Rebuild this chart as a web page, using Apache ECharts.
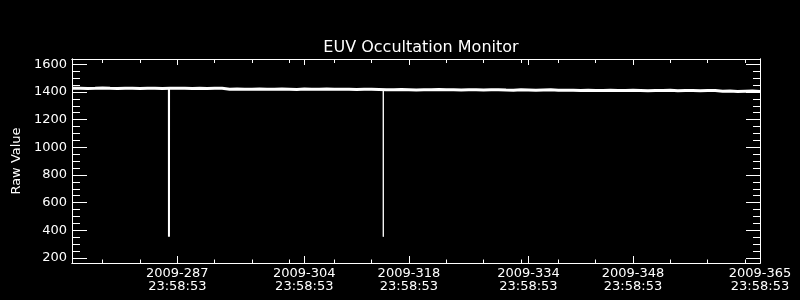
<!DOCTYPE html>
<html>
<head>
<meta charset="utf-8">
<script src="https://cdn.jsdelivr.net/npm/echarts@6/dist/echarts.min.js"></script>
<style>
html,body{margin:0;padding:0;background:#000;}
#c{width:800px;height:300px;}
</style>
</head>
<body>
<div id="c"></div>
<script>
// ---- data (day of year 2009, fractional) ----
const timeOfDay = 0.99923; // 23:58:53
const xMin = 273.9;
const xMax = 365 + timeOfDay;
const majorTickDays = [287, 304, 318, 334, 348, 365];
const majorTickLabels = ['2009-287\n23:58:53', '2009-304\n23:58:53', '2009-318\n23:58:53',
                         '2009-334\n23:58:53', '2009-348\n23:58:53', '2009-365\n23:58:53'];
const minorTickDays = [277, 282, 292, 297, 302, 308, 313, 323, 328, 333, 338, 343, 353, 358, 363];
const yTickValues = [200, 400, 600, 800, 1000, 1200, 1400, 1600];
const yMinorTickValues = [250, 300, 350, 450, 500, 550, 650, 700, 750, 850, 900, 950, 1050, 1100, 1150,
                          1250, 1300, 1350, 1450, 1500, 1550];
const yMin = 164, yMax = 1638;

// daily samples starting at day 274
const sampleStartDay = 274;
const rawValues = [
  1426,1427,1425,1426,1428,1426,1425,1427,1426,1424,1426,1427,1425,1426,1427,1426,1424,1427,1425,1426,1426,
  1420,1421,1419,1420,1422,1420,1419,1421,1420,1418,1421,1420,1419,1421,1420,1419,1420,1418,1420,1419,1418,
  1416,1415,1417,1416,1414,1416,1415,1417,1415,1416,1414,1415,1416,1414,1415,1416,1414,1413,1415,1414,1413,1414,1415,1413,1412,
  1412,1411,1413,1411,1410,1412,1411,1410,1412,1411,1409,1411,1410,1412,1409,1411,1410,1409,1411,1410,
  1405,1406,1404,1405,1406,1404
];
const firstValue = 1427;
// occultation dips
const dip1Times = [286.87, 286.88, 286.89];
const dip1Values = [1426, 354, 1426];
const dip2Times = [315.56, 315.57, 315.58];
const dip2Values = [1420, 354, 1420];

// ---- build ----
const mainData = [[xMin, firstValue]].concat(rawValues.map((v, i) => [sampleStartDay + i, v]));
const dip1Data = dip1Times.map((t, i) => [t, dip1Values[i]]);
const dip2Data = dip2Times.map((t, i) => [t, dip2Values[i]]);
const majorX = majorTickDays.map(d => d + timeOfDay);
const minorX = minorTickDays.map(d => d + timeOfDay);

const FONT = 'DejaVu Sans';
const WHITE = '#ffffff';
const lineStyle = {color: WHITE, width: 1};

function xAxisDef(pos, ticks, len, labels) {
  return {
    type: 'value', position: pos, min: xMin, max: xMax,
    axisLine: {show: true, onZero: false, lineStyle: lineStyle},
    axisTick: {show: true, inside: true, length: len, customValues: ticks, lineStyle: lineStyle},
    axisLabel: labels ? {
      show: true, customValues: ticks, color: WHITE, fontFamily: FONT, fontSize: 13,
      lineHeight: 13, margin: 4,
      formatter: function (v) {
        let best = 0;
        for (let i = 0; i < majorX.length; i++) {
          if (Math.abs(majorX[i] - v) < Math.abs(majorX[best] - v)) best = i;
        }
        return majorTickLabels[best];
      }
    } : {show: false},
    splitLine: {show: false}
  };
}
function yAxisDef(pos, ticks, len, labels) {
  const a = {
    type: 'value', position: pos, min: yMin, max: yMax,
    axisLine: {show: true, onZero: false, lineStyle: lineStyle},
    axisTick: {show: true, inside: true, length: len, customValues: ticks, lineStyle: lineStyle},
    axisLabel: labels ? {show: true, customValues: ticks, color: WHITE, fontFamily: FONT, fontSize: 13, margin: 5,
                         formatter: function (v) { return String(Math.round(v)); }}
                      : {show: false},
    splitLine: {show: false}
  };
  if (labels) {
    a.name = 'Raw Value';
    a.nameLocation = 'middle';
    a.nameGap = 45;
    a.nameTextStyle = {color: WHITE, fontFamily: FONT, fontSize: 13};
  }
  return a;
}

const chart = echarts.init(document.getElementById('c'), null, {renderer: 'canvas'});
chart.setOption({
  backgroundColor: '#000000',
  animation: false,
  title: {
    text: 'EUV Occultation Monitor', left: 416, top: 35, textAlign: 'center',
    textStyle: {color: WHITE, fontFamily: FONT, fontSize: 16, fontWeight: 'normal'}
  },
  grid: {left: 72, right: 40, top: 59, bottom: 37, containLabel: false},
  xAxis: [
    xAxisDef('bottom', majorX, 7, true),
    xAxisDef('bottom', minorX, 3.5, false),
    xAxisDef('top', majorX, 6, false),
    xAxisDef('top', minorX, 4, false)
  ],
  yAxis: [
    yAxisDef('left', yTickValues, 15, true),
    yAxisDef('left', yMinorTickValues, 8, false),
    yAxisDef('right', yTickValues, 14, false),
    yAxisDef('right', yMinorTickValues, 7, false)
  ],
  series: [
    {type: 'line', xAxisIndex: 0, yAxisIndex: 0, data: mainData, showSymbol: false, symbol: 'none',
     lineStyle: {color: WHITE, width: 3}, clip: true},
    {type: 'line', xAxisIndex: 0, yAxisIndex: 0, data: dip1Data, showSymbol: false, symbol: 'none',
     lineStyle: {color: WHITE, width: 2}, clip: true},
    {type: 'line', xAxisIndex: 0, yAxisIndex: 0, data: dip2Data, showSymbol: false, symbol: 'none',
     lineStyle: {color: WHITE, width: 1}, clip: true}
  ]
});
</script>
</body>
</html>
